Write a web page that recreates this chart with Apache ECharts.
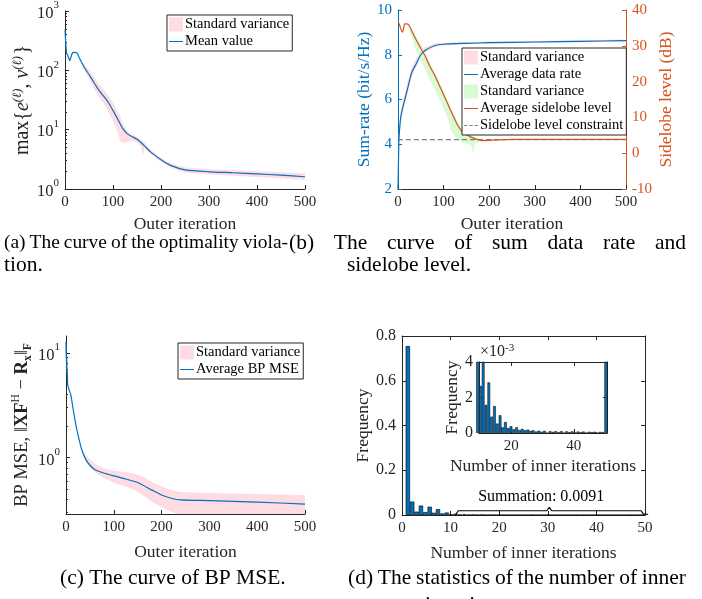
<!DOCTYPE html>
<html lang="en">
<head>
  <meta charset="utf-8">
</head>
<body style="margin: 0; background: #fff">
  <div id="container" style="width: 702px; height: 599px"></div>
  <script src="https://fastly.jsdelivr.net/npm/echarts@6/dist/echarts.min.js"></script>
  <script>
    // (a) optimality violation, log scale
    var violIter = [0, 3, 6, 10, 15, 20, 25, 30, 40, 50, 60, 70, 80, 90, 100, 110, 120, 130, 140, 150, 160, 170, 180, 200, 220, 250, 300, 350, 400, 450, 500];
    var violMean = [490, 200, 176, 146, 193, 200, 197, 161, 113, 85, 63, 47, 37, 29, 21, 15, 10.5, 8.5, 7.6, 6.9, 5.9, 4.9, 4.1, 3.1, 2.5, 2.1, 1.95, 1.88, 1.8, 1.71, 1.61];
    var violBandIter = [35, 40, 50, 60, 70, 80, 90, 100, 110, 115, 120, 125, 130, 140, 150, 158, 163, 166, 170, 180, 200, 220, 250, 300, 350, 400, 450, 500];
    var violBandLow = [125, 98, 72, 50, 36, 28, 20, 14, 9, 6.5, 6, 6, 6.2, 6.6, 6.1, 5.3, 3.6, 5.0, 4.5, 3.8, 2.9, 2.3, 1.9, 1.75, 1.68, 1.6, 1.52, 1.42];
    var violBandHigh = [138, 128, 102, 78, 60, 48, 38, 28, 20, 17, 13, 11, 9.5, 8.3, 7.5, 6.8, 6.3, 6.0, 5.4, 4.5, 3.4, 2.7, 2.3, 2.15, 2.08, 2.0, 1.92, 1.85];
    var violMajor = [1, 10, 100, 1000];
    var violMinor = [2, 3, 4, 5, 6, 7, 8, 9, 20, 30, 40, 50, 60, 70, 80, 90, 200, 300, 400, 500, 600, 700, 800, 900];

    // (b) sum rate (left axis) and sidelobe level (right axis)
    var rateIter = [0, 1, 2, 4, 6, 10, 15, 20, 30, 40, 50, 60, 80, 100, 150, 200, 300, 400, 500];
    var rateMean = [2.0, 3.2, 4.2, 4.8, 5.2, 5.6, 6.0, 6.4, 7.2, 7.6, 8.0, 8.2, 8.4, 8.47, 8.51, 8.54, 8.57, 8.6, 8.63];
    var rateLow = [2.0, 3.0, 4.0, 4.6, 5.0, 5.4, 5.8, 6.2, 7.0, 7.45, 7.9, 8.1, 8.35, 8.43, 8.47, 8.5, 8.53, 8.56, 8.59];
    var rateHigh = [2.0, 3.4, 4.5, 5.1, 5.5, 5.9, 6.3, 6.7, 7.45, 7.85, 8.2, 8.35, 8.5, 8.55, 8.57, 8.59, 8.62, 8.65, 8.68];
    var sideIter = [0, 3, 6, 10, 15, 20, 25, 30, 40, 50, 60, 70, 80, 90, 100, 110, 120, 130, 140, 150, 160, 175, 190, 200, 250, 300, 400, 500];
    var sideMean = [36.7, 36.0, 34.8, 33.8, 36.1, 36.1, 35.6, 34.2, 31.6, 29.3, 27.0, 24.2, 21.9, 19.1, 16.3, 13.5, 10.7, 8.0, 6.1, 5.2, 4.5, 3.8, 3.5, 3.6, 3.85, 3.85, 3.85, 3.85];
    var sideBandIter = [20, 30, 40, 50, 60, 70, 80, 90, 100, 110, 115, 120, 130, 140, 150, 160, 163, 165, 167, 170, 180, 190, 200];
    var sideLow = [35.5, 32.5, 28.5, 25.8, 23.3, 20.5, 18, 15.2, 12.5, 9.5, 7, 5.5, 4, 3, 2.7, 2.3, 1.0, -0.5, 1.5, 2.8, 3.2, 3.4, 3.5];
    var sideHigh = [36.5, 34.8, 32.6, 30.3, 28, 25.2, 22.8, 20, 17.3, 14.5, 13, 11.7, 9, 7, 5.9, 5.0, 4.8, 4.7, 4.6, 4.4, 4.0, 3.8, 3.8];
    var sideLimitIter = [0, 500];
    var sideLimit = [3.8, 3.8];

    // (c) BP MSE, log scale
    var mseIter = [0, 0.7, 1.5, 2, 2.5, 3.5, 6, 10, 15, 20, 26, 33, 40, 47, 60, 80, 100, 120, 150, 180, 200, 220, 240, 300, 400, 500];
    var mseMean = [12.8, 8.0, 9.5, 6.4, 7.0, 4.95, 4.5, 4.0, 2.9, 2.13, 1.59, 1.19, 0.99, 0.88, 0.77, 0.71, 0.67, 0.635, 0.58, 0.49, 0.44, 0.41, 0.395, 0.389, 0.377, 0.361];
    var mseBandIter = [33, 40, 60, 80, 100, 120, 140, 160, 180, 200, 220, 240, 300, 400, 500];
    var mseLow = [1.17, 0.97, 0.72, 0.635, 0.577, 0.54, 0.5, 0.44, 0.38, 0.336, 0.305, 0.28, 0.28, 0.28, 0.28];
    var mseHigh = [1.21, 1.06, 0.88, 0.79, 0.75, 0.735, 0.71, 0.66, 0.59, 0.53, 0.49, 0.47, 0.46, 0.45, 0.44];
    var mseMajor = [1, 10];
    var mseMinor = [0.3, 0.4, 0.5, 0.6, 0.7, 0.8, 0.9, 2, 3, 4, 5, 6, 7, 8, 9];

    // (d) histogram of inner iterations
    var binCenters = [1.2, 2.1, 3.0, 3.9, 4.8, 5.7, 6.5, 7.4, 8.3, 9.2, 10.1, 11.0, 11.9, 12.8, 13.7, 14.6, 15.5, 16.4, 17.2, 18.1,
      19.0, 19.9, 20.8, 21.7, 22.6, 23.5, 24.4, 25.3, 26.2, 27.0, 27.9, 28.8, 29.7, 30.6, 31.5, 32.4, 33.3, 34.2, 35.1, 36.0,
      36.9, 37.7, 38.6, 39.5, 40.4, 41.3, 42.2, 43.1, 44.0, 44.9, 45.8, 46.7, 47.5, 48.4, 49.3, 50.2];
    var binFreq = [0.755, 0.06, 0.015, 0.042, 0.013, 0.037, 0.01, 0.026, 0.007, 0.011, 0.00265, 0.0052, 0.00158, 0.00285, 0.00092, 0.00152, 0.00053, 0.001, 0.00032, 0.00062,
      0.00028, 0.00038, 0.00021, 0.00032, 0.00017, 0.00023, 0.00015, 0.00019, 0.00012, 0.00015, 0.00008, 0.00013, 0.00007, 0.00012, 0, 0.0001, 0.00006, 0.0001, 0.00005, 0.0001,
      0, 0.00009, 0.00005, 0.00009, 0, 0.00008, 0.00005, 0.00008, 0, 0.00007, 0.00005, 0.00007, 0, 0.00006, 0.00005, 0.006];
    var braceX = [11, 11.6, 29.8, 30.3, 30.8, 49.2, 49.8];
    var braceY = [0.001, 0.019, 0.019, 0.034, 0.019, 0.019, 0.001];
    var insetTicks = [20, 40];

    var FONT = '"Liberation Serif", serif';
    var INK = '#262626';
    var BLUE = '#0072BD';
    var ORANGE = '#D95319';
    var PINK = '#FFDCE2';
    var GREEN = '#DAFAD4';
    var LINE_ICON = 'path://M0,0H20V1.4H0Z';
    var DASH_ICON = 'path://M0,0H5V1.4H0Z M8,0H13V1.4H8Z M16,0H21V1.4H16Z';
    // zero-width marks keep the repeated legend names apart
    var SV_A = 'Standard variance';
    var SV_B1 = 'Standard variance\u200b';
    var SV_B2 = 'Standard variance\u200b\u200b';
    var SV_C = 'Standard variance\u200b\u200b\u200b';

    var chart = echarts.init(document.getElementById('container'));

    function pairs(xs, ys) {
      return xs.map(function (x, i) { return [x, ys[i]]; });
    }

    function axis(gridIndex, extra) {
      return echarts.util.merge({
        gridIndex: gridIndex,
        splitLine: { show: false },
        axisLine: { onZero: false, lineStyle: { color: INK, width: 1 } },
        axisTick: { inside: true, length: 4, lineStyle: { color: INK } },
        axisLabel: { color: INK, fontFamily: FONT, fontSize: 15, margin: 6 },
        nameLocation: 'middle',
        nameTextStyle: { color: INK, fontFamily: FONT, fontSize: 17.5 }
      }, extra, true);
    }

    // blank axis used for box sides and minor ticks
    function bare(gridIndex, extra) {
      return axis(gridIndex, echarts.util.merge({
        axisLabel: { show: false },
        axisTick: { length: 4 }
      }, extra, true));
    }

    function powLabel(v) {
      return '{b|10}{s|' + Math.round(Math.log10(v)) + '}';
    }
    var powRich = {
      b: { fontSize: 16.5, fontFamily: FONT, color: INK, lineHeight: 22, verticalAlign: 'bottom' },
      s: { fontSize: 11, fontFamily: FONT, color: INK, lineHeight: 22, verticalAlign: 'top' }
    };

    function band(name, xi, yi, xs, lo, hi, fill) {
      return {
        type: 'custom', name: name, xAxisIndex: xi, yAxisIndex: yi,
        data: xs.map(function (x, i) { return [x, lo[i], hi[i]]; }),
        encode: { x: 0, y: [1, 2] },
        itemStyle: { color: fill },
        clip: true, silent: true, z: 1,
        renderItem: function (params, api) {
          if (params.dataIndex !== 0) return;
          var pts = [];
          for (var i = 0; i < xs.length; i++) pts.push(api.coord([xs[i], hi[i]]));
          for (var j = xs.length - 1; j >= 0; j--) pts.push(api.coord([xs[j], lo[j]]));
          return { type: 'polygon', shape: { points: pts }, style: { fill: fill } };
        }
      };
    }

    function curve(name, xi, yi, xs, ys, color, dashed) {
      return {
        type: 'line', name: name, xAxisIndex: xi, yAxisIndex: yi,
        data: pairs(xs, ys), symbol: 'none', smooth: 0.2, silent: true, z: 3,
        itemStyle: { color: color },
        lineStyle: { color: color, width: 1.2, type: dashed ? [5, 3] : 'solid' }
      };
    }

    function legendBox(left, top, items) {
      return {
        left: left, top: top, orient: 'vertical', data: items,
        itemWidth: 14, itemHeight: 14, itemGap: 2, itemStyle: { borderWidth: 0 },
        padding: [2, 3, 2, 2], borderColor: INK, borderWidth: 1, borderRadius: 0, backgroundColor: '#fff',
        selectedMode: false, z: 10,
        textStyle: { fontFamily: FONT, fontSize: 14.5, color: '#000', padding: [0, 0, 0, -3] }
      };
    }

    // caption lines, spread to fill [x0, x1] like justified text
    var CAP_SIZE = 21.5;
    var measure = document.createElement('canvas').getContext('2d');
    function justify(text, x0, x1, y) {
      var words = text.split(' ');
      var size = CAP_SIZE;
      measure.font = size + 'px ' + FONT;
      var used = 0;
      words.forEach(function (w) { used += measure.measureText(w).width; });
      var minGap = 4;
      var room = x1 - x0 - minGap * (words.length - 1);
      if (used > room) {
        size = size * room / used;
        measure.font = size + 'px ' + FONT;
        used = 0;
        words.forEach(function (w) { used += measure.measureText(w).width; });
      }
      var gap = (x1 - x0 - used) / (words.length - 1);
      var x = x0;
      return words.map(function (w) {
        var el = { type: 'text', x: x, y: y, silent: true,
          style: { text: w, font: size + 'px ' + FONT, fill: '#000', verticalAlign: 'middle' } };
        x += measure.measureText(w).width + gap;
        return el;
      });
    }
    function plain(text, x, y) {
      return { type: 'text', x: x, y: y, silent: true,
        style: { text: text, font: CAP_SIZE + 'px ' + FONT, fill: '#000', verticalAlign: 'middle' } };
    }

    var option = {
      animation: false,
      textStyle: { fontFamily: FONT },
      grid: [
        { left: 65, top: 10, width: 240, height: 179 },
        { left: 398, top: 10, width: 228, height: 179 },
        { left: 66, top: 336, width: 239, height: 178 },
        { left: 402, top: 336, width: 243, height: 179 },
        { left: 479, top: 362, width: 128, height: 71 }
      ],
      xAxis: [
        axis(0, { type: 'value', min: 0, max: 500, interval: 100, name: 'Outer iteration', nameGap: 26 }),
        axis(1, { type: 'value', min: 0, max: 500, interval: 100, name: 'Outer iteration', nameGap: 26 }),
        axis(2, { type: 'value', min: 0, max: 500, interval: 100, name: 'Outer iteration', nameGap: 29 }),
        axis(3, { type: 'value', min: 0, max: 50, interval: 10, name: 'Number of inner iterations', nameGap: 29 }),
        bare(3, { type: 'value', min: 0, max: 50, interval: 10, position: 'top' }),
        axis(4, { type: 'value', min: 9.66, max: 50.6, name: 'Number of inner iterations', nameGap: 24,
          axisLabel: { customValues: insetTicks }, axisTick: { customValues: insetTicks } }),
        bare(4, { type: 'value', min: 9.66, max: 50.6, position: 'top', axisTick: { customValues: insetTicks } })
      ],
      yAxis: [
        axis(0, { type: 'log', logBase: 10, min: 1, max: 1000, nameGap: 22, nameRotate: 90, position: 'left',
          axisLabel: { formatter: powLabel, rich: powRich, customValues: violMajor },
          axisTick: { customValues: violMajor },
          name: '{t|max\{}{i|e}{s|(ℓ)}{t|, }{i|v}{s|(ℓ)}{t|\u200a}}',
          nameTextStyle: { fontSize: 20, rich: {
            t: { fontSize: 20, fontFamily: FONT, color: INK, lineHeight: 24, verticalAlign: 'middle' },
            i: { fontSize: 20, fontFamily: FONT, fontStyle: 'italic', color: INK, lineHeight: 24, verticalAlign: 'middle' },
            s: { fontSize: 12.5, fontFamily: FONT, fontStyle: 'italic', color: INK, lineHeight: 24, verticalAlign: 'top' }
          } } }),
        bare(0, { type: 'log', logBase: 10, min: 1, max: 1000, position: 'left', axisLine: { show: false },
          axisTick: { length: 2, customValues: violMinor } }),
        axis(1, { type: 'value', min: 2, max: 10, interval: 2, name: 'Sum-rate (bit/s/Hz)', nameGap: 25, nameRotate: 90, position: 'left',
          axisLine: { lineStyle: { color: BLUE } }, axisTick: { lineStyle: { color: BLUE } },
          axisLabel: { color: BLUE }, nameTextStyle: { color: BLUE } }),
        axis(1, { type: 'value', min: -10, max: 40, interval: 10, position: 'right', name: 'Sidelobe level (dB)', nameGap: 31, nameRotate: 90,
          axisLine: { lineStyle: { color: ORANGE } }, axisTick: { lineStyle: { color: ORANGE } },
          axisLabel: { color: ORANGE }, nameTextStyle: { color: ORANGE } }),
        axis(2, { type: 'log', logBase: 10, min: 0.29, max: 14.5, nameGap: 27, nameRotate: 90, position: 'left',
          axisLabel: { formatter: powLabel, rich: powRich, customValues: mseMajor },
          axisTick: { customValues: mseMajor },
          name: '{t|BP MSE, ‖}{b|XF}{s|H}{t| − }{b|R}{u|x}{t|‖}{u|F}',
          nameTextStyle: { fontSize: 18.5, rich: {
            t: { fontSize: 18.5, fontFamily: FONT, color: INK, lineHeight: 24, verticalAlign: 'middle' },
            b: { fontSize: 18.5, fontFamily: FONT, fontWeight: 'bold', color: INK, lineHeight: 24, verticalAlign: 'middle' },
            s: { fontSize: 11.5, fontFamily: FONT, color: INK, lineHeight: 24, verticalAlign: 'top' },
            u: { fontSize: 11.5, fontFamily: FONT, fontWeight: 'bold', color: INK, lineHeight: 24, verticalAlign: 'bottom' }
          } } }),
        bare(2, { type: 'log', logBase: 10, min: 0.29, max: 14.5, position: 'left', axisLine: { show: false },
          axisTick: { length: 2, customValues: mseMinor } }),
        axis(3, { type: 'value', min: 0, max: 0.8, interval: 0.2, name: 'Frequency', nameGap: 27, nameRotate: 90, position: 'left',
          axisLabel: { fontSize: 16, formatter: function (v) { return v === 0 ? '0' : v.toFixed(1); } } }),
        bare(3, { type: 'value', min: 0, max: 0.8, interval: 0.2, position: 'right' }),
        axis(4, { type: 'value', min: 0, max: 0.004, interval: 0.002, name: 'Frequency', nameGap: 16, nameRotate: 90, position: 'left',
          axisLabel: { fontSize: 16, formatter: function (v) { return String(Math.round(v * 1000)); } } }),
        bare(4, { type: 'value', min: 0, max: 0.004, interval: 0.002, position: 'right' }),
        // exponent note of the inset axis
        bare(4, { type: 'value', min: 0, max: 0.004, position: 'left', axisLine: { show: false }, axisTick: { show: false },
          name: '×10{s|-3}', nameLocation: 'end', nameGap: 1,
          nameTextStyle: { fontSize: 16, align: 'left', verticalAlign: 'bottom', padding: [0, 0, 0, 1], rich: {
            s: { fontSize: 11, fontFamily: FONT, color: INK, verticalAlign: 'top', lineHeight: 18 }
          } } })
      ],
      legend: [
        legendBox(167, 15, [{ name: SV_A, icon: 'rect' }, { name: 'Mean value', icon: LINE_ICON }]),
        legendBox(462, 48, [{ name: SV_B1, icon: 'rect' }, { name: 'Average data rate', icon: LINE_ICON },
          { name: SV_B2, icon: 'rect' }, { name: 'Average sidelobe level', icon: LINE_ICON },
          { name: 'Sidelobe level constraint', icon: DASH_ICON }]),
        legendBox(178, 343, [{ name: SV_C, icon: 'rect' }, { name: 'Average BP MSE', icon: LINE_ICON }])
      ],
      series: [
        band(SV_A, 0, 0, violBandIter, violBandLow, violBandHigh, PINK),
        curve('Mean value', 0, 0, violIter, violMean, BLUE),

        band(SV_B1, 1, 2, rateIter, rateLow, rateHigh, PINK),
        band(SV_B2, 1, 3, sideBandIter, sideLow, sideHigh, GREEN),
        curve('Sidelobe level constraint', 1, 3, sideLimitIter, sideLimit, '#808080', true),
        curve('Average data rate', 1, 2, rateIter, rateMean, BLUE),
        curve('Average sidelobe level', 1, 3, sideIter, sideMean, ORANGE),

        band(SV_C, 2, 4, mseBandIter, mseLow, mseHigh, PINK),
        curve('Average BP MSE', 2, 4, mseIter, mseMean, BLUE),

        {
          type: 'bar', xAxisIndex: 3, yAxisIndex: 6, data: pairs(binCenters, binFreq),
          barWidth: 4.3, silent: true,
          itemStyle: { color: BLUE, borderColor: '#000', borderWidth: 0.6 }
        },
        {
          type: 'line', xAxisIndex: 3, yAxisIndex: 6, data: pairs(braceX, braceY),
          symbol: 'none', silent: true, z: 5,
          lineStyle: { color: '#000', width: 1.2 },
          markPoint: {
            symbol: 'circle', symbolSize: 0, silent: true,
            data: [{ coord: [braceX[3], braceY[3]] }],
            label: { show: true, position: 'top', distance: 3, offset: [-8, 0], formatter: 'Summation: 0.0091',
              fontFamily: FONT, fontSize: 16, color: '#000' }
          }
        },
        {
          type: 'bar', xAxisIndex: 5, yAxisIndex: 8, data: pairs(binCenters, binFreq),
          barWidth: 2.7, silent: true, clip: true,
          itemStyle: { color: BLUE, borderColor: '#000', borderWidth: 0.5 }
        }
      ],
      graphic: [].concat(
        justify('(a) The curve of the optimality viola-', 4, 288, 243),
        justify('(b) The curve of sum data rate and', 289, 686, 243),
        [plain('tion.', 4, 265), plain('sidelobe level.', 347, 265)],
        [plain('(c) The curve of BP MSE.', 60, 578)],
        justify('(d) The statistics of the number of inner', 348, 686, 578),
        [plain('iterations.', 425, 605)]
      )
    };

    chart.setOption(option);
  </script>
</body>
</html>
